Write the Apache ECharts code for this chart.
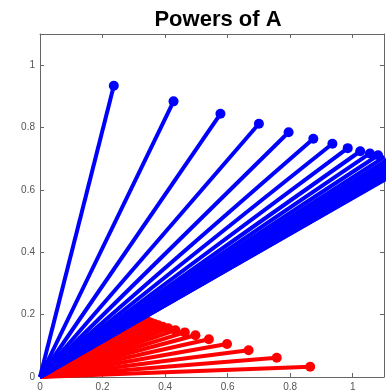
<!DOCTYPE html>
<html>
<head>
<meta charset="utf-8">
<script src="https://cdn.jsdelivr.net/npm/echarts@6/dist/echarts.min.js"></script>
<style>
  html, body { margin: 0; padding: 0; background: #fff; }
  #chart { width: 392px; height: 392px; }
</style>
</head>
<body>
<div id="chart"></div>
<script>
// tips of the red vectors (first column of A^k)
const redX = [0.864, 0.757, 0.667, 0.598, 0.540, 0.497, 0.463, 0.433, 0.410, 0.392,
              0.378, 0.366, 0.356, 0.348, 0.342, 0.337, 0.333, 0.330, 0.328, 0.326,
              0.325, 0.324, 0.323, 0.323, 0.322];
const redY = [0.033, 0.062, 0.086, 0.106, 0.121, 0.134, 0.143, 0.150, 0.156, 0.161,
              0.166, 0.170, 0.173, 0.176, 0.178, 0.180, 0.181, 0.182, 0.183, 0.184,
              0.184, 0.185, 0.185, 0.185, 0.185];
// tips of the blue vectors (second column of A^k)
const blueX = [0.236, 0.427, 0.577, 0.700, 0.795, 0.874, 0.935, 0.984, 1.024, 1.055,
               1.081, 1.102, 1.119, 1.133, 1.145, 1.154, 1.162, 1.168, 1.173, 1.177,
               1.180, 1.183, 1.185, 1.187, 1.188];
const blueY = [0.934, 0.884, 0.844, 0.812, 0.785, 0.764, 0.748, 0.734, 0.724, 0.717,
               0.711, 0.706, 0.702, 0.698, 0.695, 0.692, 0.690, 0.688, 0.687, 0.686,
               0.685, 0.684, 0.683, 0.683, 0.682];
const tickValues = [0, 0.2, 0.4, 0.6, 0.8, 1];

function vectorSeries(xs, ys, color, z) {
  return xs.map((x, i) => ({
    type: 'line',
    data: [{ value: [0, 0], symbol: 'none' }, [x, ys[i]]],
    symbol: 'circle',
    symbolSize: 10,
    showAllSymbol: true,
    lineStyle: { color: color, width: 4 },
    itemStyle: { color: color },
    silent: true,
    animation: false,
    z: z
  }));
}

function tickLabel(v) {
  return tickValues.some(t => Math.abs(t - v) < 1e-6) ? String(+v.toFixed(1)) : '';
}

const axisCommon = {
  type: 'value',
  min: 0,
  max: 1.1,
  interval: 0.2,
  axisLine: { show: true, onZero: false, lineStyle: { color: '#666', width: 1 } },
  axisTick: { show: true, inside: true, length: 4, lineStyle: { color: '#666' } },
  splitLine: { show: false }
};

const chart = echarts.init(document.getElementById('chart'));
chart.setOption({
  backgroundColor: '#fff',
  title: {
    text: 'Powers of A',
    left: 213,
    top: 4,
    textAlign: 'center',
    textStyle: { fontFamily: 'Liberation Sans', fontWeight: 'bold', fontSize: 22, color: '#000' }
  },
  grid: { left: 40, right: 8, top: 34, bottom: 14 },
  xAxis: [
    Object.assign({}, axisCommon, {
      position: 'bottom',
      axisLabel: { formatter: tickLabel, color: '#555', fontSize: 10, margin: 5, fontFamily: 'Liberation Sans' }
    }),
    Object.assign({}, axisCommon, { position: 'top', axisLabel: { show: false } })
  ],
  yAxis: [
    Object.assign({}, axisCommon, {
      position: 'left',
      axisLabel: { formatter: tickLabel, color: '#555', fontSize: 10, margin: 5, fontFamily: 'Liberation Sans' }
    }),
    Object.assign({}, axisCommon, { position: 'right', axisLabel: { show: false } })
  ],
  series: vectorSeries(redX, redY, '#ff0000', 2).concat(vectorSeries(blueX, blueY, '#0000ff', 3))
});
</script>
</body>
</html>
